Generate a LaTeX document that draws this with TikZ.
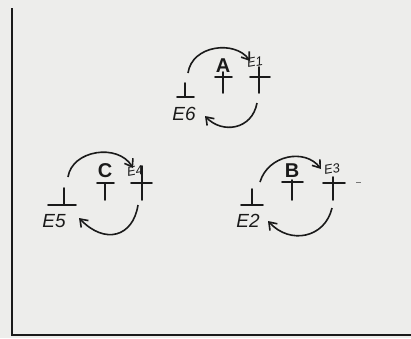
\documentclass[tikz,border=0pt]{standalone}
\usepackage{fontspec}
\setmainfont{Liberation Sans}
\usetikzlibrary{arrows.meta}
\definecolor{paper}{HTML}{EDEDEB}
\definecolor{ink}{HTML}{1A1A1A}
\begin{document}
\begin{tikzpicture}[x=1pt,y=-1pt,
  ink/.style={draw=ink,line width=1.8pt,line cap=round},
  frame/.style={draw=ink,line width=2.2pt},
  loop/.style={draw=ink,line width=1.6pt,-{Straight Barb[length=7pt,width=10pt,line width=1.6pt]}},
  big/.style={text=ink,font=\bfseries\fontsize{20}{20}\selectfont,inner sep=0pt},
  mid/.style={text=ink,font=\itshape\fontsize{19}{19}\selectfont,inner sep=0pt},
  small/.style={text=ink,font=\itshape\fontsize{13}{13}\selectfont,inner sep=0pt}]
\fill[paper] (0,0) rectangle (411,338);
\useasboundingbox (0,0) rectangle (411,338);
% frame
\coordinate (ftop) at (12,8);
\coordinate (fcorner) at (12,335);
\coordinate (fright) at (411,335);
\draw[frame] (ftop) -- (fcorner) -- (fright);

% ---------- group A ----------
\node[big] (A) at (223,66) {A};
\draw[ink] (223,72) -- (223,93) (215,77) -- (232,77);
\node[small,rotate=10] (E1) at (255,62) {E1};
\draw[ink] (259,67) -- (259,93) (250,77) -- (270,77);
\draw[ink] (185,83) -- (185,97) (177,97) -- (194,97);
\node[mid] (E6) at (184,114) {E6};
\coordinate (a1) at (188,73);
\coordinate (a2) at (250,61);
\coordinate (a3) at (257,103);
\coordinate (a4) at (205,116);
\draw[loop] (a1) .. controls (192,45) and (235,40) .. (a2);
\draw[loop] (a3) .. controls (252,130) and (222,134) .. (a4);

% ---------- group C ----------
\node[big] (C) at (105,171) {C};
\draw[ink] (105,183) -- (105,200) (97,183) -- (114,183);
\node[small,rotate=10] (E4) at (135,171) {E4};
\draw[ink] (142,166) -- (142,200) (131,183) -- (152,183);
\draw[ink] (64,188) -- (64,205) (48,205) -- (76,205);
\node[mid] (E5) at (54,221) {E5};
\coordinate (c1) at (68,177);
\coordinate (c2) at (133,168);
\coordinate (c3) at (138,205);
\coordinate (c4) at (79,218);
\draw[loop] (c1) .. controls (72,150) and (118,143) .. (c2);
\draw[loop] (c3) .. controls (133,237) and (105,245) .. (c4);

% ---------- group B ----------
\node[big] (B) at (292,171) {B};
\draw[ink] (292,180) -- (292,200) (282,182) -- (303,182);
\node[small,rotate=10] (E3) at (332,169) {E3};
\draw[ink] (333,177) -- (333,200) (323,183) -- (345,183);
\draw[ink] (252,189) -- (252,205) (241,205) -- (263,205);
\node[mid] (E2) at (248,221) {E2};
\coordinate (b1) at (260,182);
\coordinate (b2) at (321,169);
\coordinate (b3) at (332,208);
\coordinate (b4) at (268,221);
\draw[loop] (b1) .. controls (268,155) and (305,148) .. (b2);
\draw[loop] (b3) .. controls (325,238) and (290,245) .. (b4);
\draw[draw=ink!60,line width=1pt] (356,182) -- (361,182);
\end{tikzpicture}
\end{document}
